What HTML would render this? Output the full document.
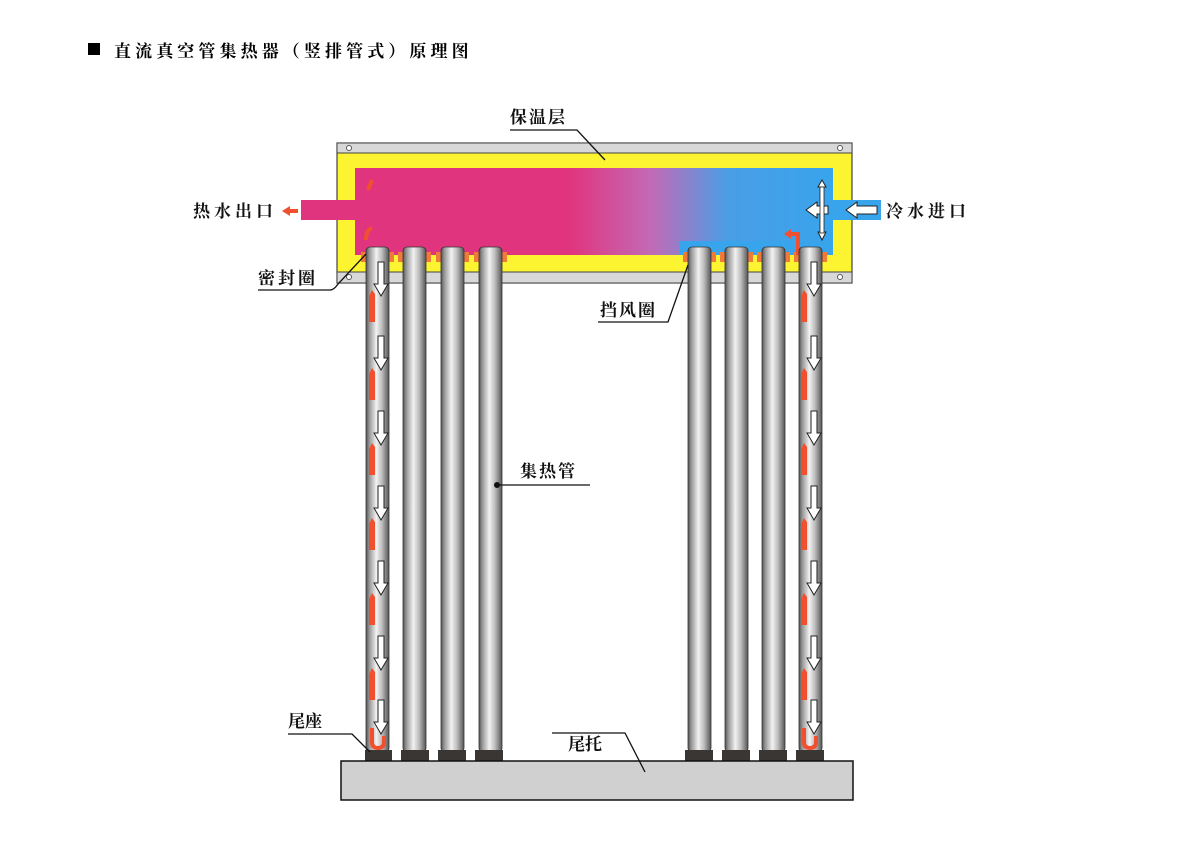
<!DOCTYPE html>
<html><head><meta charset="utf-8"><style>
html,body{margin:0;padding:0;background:#fff;}
svg{display:block}
text{font-family:"Liberation Serif","Noto Serif CJK SC","Noto Sans CJK SC",serif;}
</style></head><body>
<svg width="1200" height="841" viewBox="0 0 1200 841" xmlns="http://www.w3.org/2000/svg">
<defs>
<linearGradient id="water" x1="0" x2="1" y1="0" y2="0">
<stop offset="0" stop-color="#e1347e"/>
<stop offset="0.45" stop-color="#e1347e"/>
<stop offset="0.62" stop-color="#c26ab6"/>
<stop offset="0.78" stop-color="#4a9ee6"/>
<stop offset="1" stop-color="#38a4ec"/>
</linearGradient>
<linearGradient id="tube" x1="0" x2="1" y1="0" y2="0">
<stop offset="0" stop-color="#555"/>
<stop offset="0.15" stop-color="#999"/>
<stop offset="0.45" stop-color="#f2f2f2"/>
<stop offset="0.7" stop-color="#bbb"/>
<stop offset="1" stop-color="#555"/>
</linearGradient>
<g id="darr"><path d="M-3,0 H3 V22 H7 L0,34 L-7,22 H-3 Z" fill="#fff" stroke="#222" stroke-width="1"/></g>
<g id="rdash"><path d="M-3,6 L0,0 L3,4 V32 H-3 Z" fill="#f0502e"/></g>
</defs>

<!-- title -->
<rect x="88" y="43" width="12" height="12" fill="#000"/>
<text x="114" y="57" font-size="17" font-weight="bold" font-family="Liberation Sans, Noto Sans CJK SC, sans-serif" letter-spacing="4.1">直流真空管集热器（竖排管式）原理图</text>

<!-- header box -->
<rect x="337" y="143" width="515" height="140" fill="#fdf431" stroke="#444" stroke-width="1.2"/>
<rect x="337" y="143" width="515" height="10" fill="#d8d8d8" stroke="#444" stroke-width="1"/>
<rect x="337" y="272" width="515" height="11" fill="#d8d8d8" stroke="#444" stroke-width="1"/>
<circle cx="349" cy="148" r="2.5" fill="#fff" stroke="#555"/>
<circle cx="349" cy="277" r="2.5" fill="#fff" stroke="#555"/>
<circle cx="840" cy="148" r="2.5" fill="#fff" stroke="#555"/>
<circle cx="840" cy="277" r="2.5" fill="#fff" stroke="#555"/>
<rect x="355" y="168" width="478" height="87" fill="url(#water)"/>
<rect x="301" y="200" width="56" height="20" fill="#e1347e"/>
<rect x="831" y="200" width="50" height="20" fill="#38a4ec"/>
<rect x="680" y="241" width="150" height="14" fill="#38a4ec"/>
<!-- gaskets -->
<g fill="#ef7a3a">
<rect x="361" y="252" width="5" height="10"/><rect x="389" y="252" width="5" height="10"/><rect x="398" y="252" width="5" height="10"/><rect x="426" y="252" width="5" height="10"/><rect x="436" y="252" width="5" height="10"/><rect x="464" y="252" width="5" height="10"/><rect x="474" y="252" width="5" height="10"/><rect x="502" y="252" width="5" height="10"/>
<rect x="683" y="252" width="5" height="10"/><rect x="711" y="252" width="5" height="10"/><rect x="720" y="252" width="5" height="10"/><rect x="748" y="252" width="5" height="10"/><rect x="757" y="252" width="5" height="10"/><rect x="785" y="252" width="5" height="10"/><rect x="794" y="252" width="5" height="10"/><rect x="822" y="252" width="5" height="10"/>
</g>
<!-- arrows in header -->
<path d="M298,211 L287,211" stroke="#f0502e" stroke-width="4"/>
<path d="M282,211 L290,206 L290,216 Z" fill="#f0502e"/>
<path d="M368,190 L372,180" stroke="#f0502e" stroke-width="4"/>
<path d="M366,240 Q366,230 372,228" stroke="#f0502e" stroke-width="4" fill="none"/>
<path d="M798,255 V234 H790" stroke="#f0502e" stroke-width="4" fill="none"/>
<path d="M784,234 L791,229 L791,239 Z" fill="#f0502e"/>
<path d="M877,206 H857 V202 L846,210 L857,218 V214 H877 Z" fill="#fff" stroke="#222"/>
<path d="M828,206 H817 V202 L806,210 L817,218 V214 H828 Z" fill="#fff" stroke="#222"/>
<path d="M822,197 V187 H826 L822,180 L818,187 H822 M822,222 V232 H826 L822,240 L818,232 H822" fill="#fff" stroke="#222"/>
<rect x="820" y="187" width="4" height="46" fill="#fff" stroke="#222" stroke-width="0.8"/>

<!-- tubes -->
<g fill="url(#tube)" stroke="#333" stroke-width="0.8">
<rect x="366" y="247" width="23" height="505" rx="4"/>
<rect x="403" y="247" width="23" height="505" rx="4"/>
<rect x="441" y="247" width="23" height="505" rx="4"/>
<rect x="479" y="247" width="23" height="505" rx="4"/>
<rect x="688" y="247" width="23" height="505" rx="4"/>
<rect x="725" y="247" width="23" height="505" rx="4"/>
<rect x="762" y="247" width="23" height="505" rx="4"/>
<rect x="799" y="247" width="23" height="505" rx="4"/>
</g>
<!-- flow arrows left tube -->
<g>
<use href="#darr" x="381" y="262"/><use href="#darr" x="381" y="336"/><use href="#darr" x="381" y="411"/><use href="#darr" x="381" y="486"/><use href="#darr" x="381" y="561"/><use href="#darr" x="381" y="636"/><use href="#darr" x="381" y="700"/>
<use href="#rdash" x="372" y="290"/><use href="#rdash" x="372" y="368"/><use href="#rdash" x="372" y="443"/><use href="#rdash" x="372" y="518"/><use href="#rdash" x="372" y="593"/><use href="#rdash" x="372" y="668"/>
<path d="M372,728 V742 Q372,748 378,748 Q384,748 384,742 V736" stroke="#f0502e" stroke-width="4" fill="none"/>
</g>
<g>
<use href="#darr" x="814" y="262"/><use href="#darr" x="814" y="336"/><use href="#darr" x="814" y="411"/><use href="#darr" x="814" y="486"/><use href="#darr" x="814" y="561"/><use href="#darr" x="814" y="636"/><use href="#darr" x="814" y="700"/>
<use href="#rdash" x="804" y="290"/><use href="#rdash" x="804" y="368"/><use href="#rdash" x="804" y="443"/><use href="#rdash" x="804" y="518"/><use href="#rdash" x="804" y="593"/><use href="#rdash" x="804" y="668"/>
<path d="M804,728 V742 Q804,748 810,748 Q816,748 816,742 V736" stroke="#f0502e" stroke-width="4" fill="none"/>
</g>
<!-- caps -->
<g fill="#3a3634">
<rect x="365" y="750" width="27" height="11"/><rect x="401" y="750" width="28" height="11"/><rect x="438" y="750" width="28" height="11"/><rect x="475" y="750" width="28" height="11"/>
<rect x="685" y="750" width="28" height="11"/><rect x="722" y="750" width="28" height="11"/><rect x="759" y="750" width="28" height="11"/><rect x="796" y="750" width="28" height="11"/>
</g>
<!-- base -->
<rect x="341" y="761" width="512" height="39" fill="#d0d0d0" stroke="#111" stroke-width="1.5"/>

<!-- labels -->
<g font-size="17" fill="#111" font-weight="bold">
<text x="510" y="123" letter-spacing="2">保温层</text>
<text x="193" y="217" letter-spacing="4">热水出口</text>
<text x="886" y="217" letter-spacing="4">冷水进口</text>
<text x="258" y="284" letter-spacing="3">密封圈</text>
<text x="600" y="316" letter-spacing="2">挡风圈</text>
<text x="520" y="477" letter-spacing="2">集热管</text>
<text x="288" y="727">尾座</text>
<text x="568" y="750">尾托</text>
</g>
<g stroke="#111" stroke-width="1.3" fill="none">
<path d="M510,130 H577 L605,160"/>
<path d="M258,290 H330 Q334,290 338,284 L366,254"/>
<path d="M598,322 H668 L688,265"/>
<path d="M497,485 H590"/>
<path d="M288,734 H352 L370,752"/>
<path d="M552,733 H625 L645,772"/>
</g>
<circle cx="497" cy="485" r="3" fill="#111"/>
</svg>
</body></html>
